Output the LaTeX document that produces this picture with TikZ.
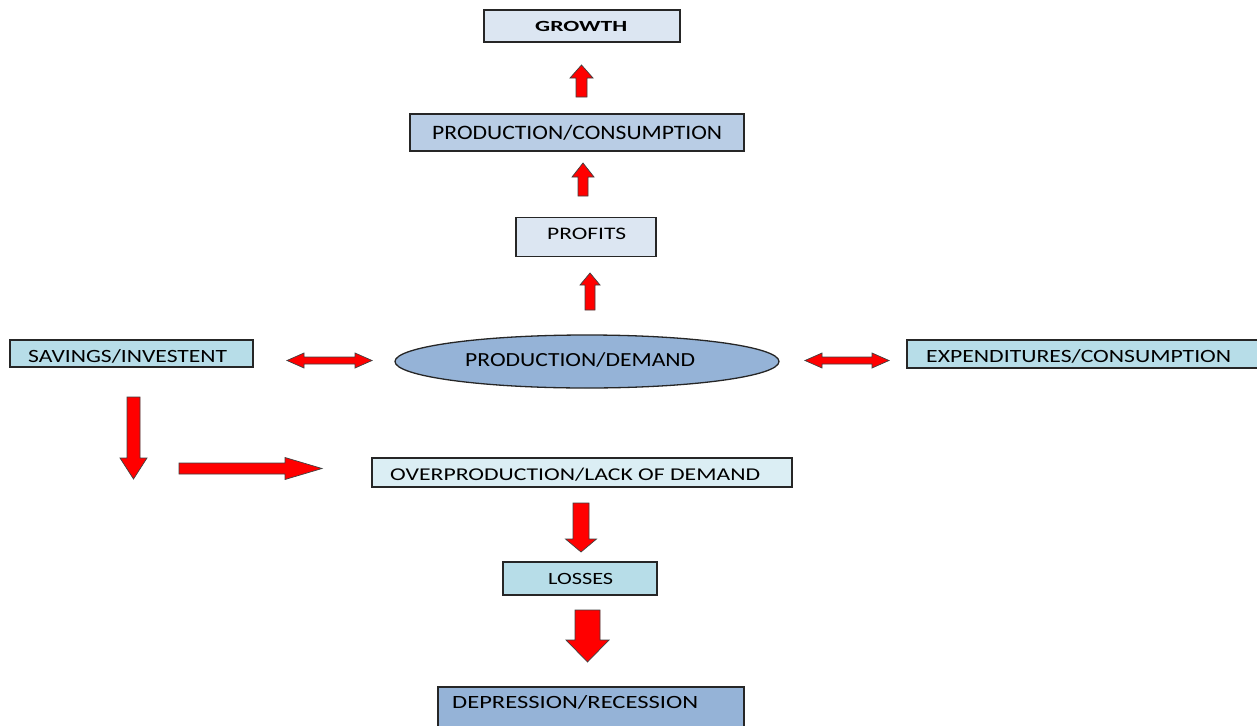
\documentclass[tikz,border=0pt]{standalone}
\usepackage{fontspec}
\setmainfont{Carlito}
\usepackage{graphicx}
\usetikzlibrary{shapes.geometric}
\definecolor{paleblue}{HTML}{DCE6F2}
\definecolor{midblue}{HTML}{B9CDE5}
\definecolor{deepblue}{HTML}{95B3D7}
\definecolor{cyanbox}{HTML}{B7DDE8}
\definecolor{palecyan}{HTML}{DBEEF4}
\definecolor{arrowred}{HTML}{FF0000}
\tikzset{
  box/.style={draw=black!85, line width=1.3pt, inner sep=0pt, rectangle},
  blockarr/.style={fill=arrowred, draw=black!75, line width=0.7pt, line join=miter},
  lab/.style={anchor=base west, inner sep=0pt, text=black},
}
% label: name, x, baseline y, font size, width, text
\newcommand\lbl[6]{\node[lab] (#1) at (#2,#3) {\resizebox{#5pt}{\height}{\fontsize{#4}{#4}\selectfont #6}};}
% vertical block arrow: cx, ytip, yhead, yend, shaft half width, head half width
\newcommand\blkV[6]{\draw[blockarr] (#1-#5,#4) -- (#1-#5,#3) -- (#1-#6,#3) -- (#1,#2) -- (#1+#6,#3) -- (#1+#5,#3) -- (#1+#5,#4) -- cycle;}
% horizontal block arrow: cy, xtip, xhead, xend, shaft half, head half
\newcommand\blkH[6]{\draw[blockarr] (#4,#1-#5) -- (#3,#1-#5) -- (#3,#1-#6) -- (#2,#1) -- (#3,#1+#6) -- (#3,#1+#5) -- (#4,#1+#5) -- cycle;}
% double horizontal block arrow: cy, xl, xlhead, xrhead, xr, shaft half, head half
\newcommand\blkD[7]{\draw[blockarr] (#2,#1) -- (#3,#1-#7) -- (#3,#1-#6) -- (#4,#1-#6) -- (#4,#1-#7) -- (#5,#1) -- (#4,#1+#7) -- (#4,#1+#6) -- (#3,#1+#6) -- (#3,#1+#7) -- cycle;}
\begin{document}
\begin{tikzpicture}[x=1pt,y=-1pt]
\clip (0,0) rectangle (1257,725);
\fill[white] (0,0) rectangle (1257,725);

% boxes
\node[box, fill=paleblue, minimum width=196pt, minimum height=32pt] (growthbox) at (582,26) {};
\node[box, fill=midblue, minimum width=334pt, minimum height=37pt] (pcbox) at (577,132.5) {};
\node[box, fill=paleblue, minimum width=140pt, minimum height=39pt] (profitbox) at (586,237) {};
\node[box, fill=cyanbox, minimum width=243pt, minimum height=27pt] (savbox) at (131.5,353.5) {};
\node[ellipse, draw=black!85, line width=1.3pt, inner sep=0pt, fill=deepblue, minimum width=384pt, minimum height=53pt] (pdell) at (587,361.5) {};
\node[box, fill=cyanbox, minimum width=353pt, minimum height=28pt] (expbox) at (1083.5,354) {};
\node[box, fill=palecyan, minimum width=420pt, minimum height=29pt] (overbox) at (582,472.5) {};
\node[box, fill=cyanbox, minimum width=154pt, minimum height=33pt] (lossbox) at (580,578.5) {};
\node[box, fill=deepblue, minimum width=306pt, minimum height=60pt] (depbox) at (591,717) {};

% labels
\lbl{growth}{535}{31.5}{15.5}{92}{\bfseries GROWTH}
\lbl{pc}{432}{139}{20.5}{290}{PRODUCTION/CONSUMPTION}
\lbl{profits}{547}{239.3}{17.6}{79}{PROFITS}
\lbl{sav}{28}{362.7}{18.7}{199}{SAVINGS/INVESTENT}
\lbl{pd}{465}{366}{20}{230}{PRODUCTION/DEMAND}
\lbl{exp}{926}{362.7}{18.7}{305}{EXPENDITURES/CONSUMPTION}
\lbl{over}{390}{480.7}{18}{370}{OVERPRODUCTION/LACK OF DEMAND}
\lbl{loss}{548}{584}{17.2}{65}{LOSSES}
\lbl{dep}{452}{708.3}{18.7}{246}{DEPRESSION/RECESSION}

% block arrows
\blkV{581.5}{65}{78}{97}{5.5}{11.5}
\blkV{583}{163}{177}{196}{5}{11}
\blkV{590}{273}{285}{310}{5}{10}
\blkD{360.5}{287}{304}{355}{372}{3.5}{7.5}
\blkD{360.5}{805}{822}{872}{889}{3.5}{7.5}
\blkV{133.5}{479}{458}{397}{6.5}{13.5}
\blkH{468.5}{322}{285}{179}{5.5}{11}
\blkV{581}{552}{539}{503}{8}{15.5}
\blkV{587.5}{662}{640}{610}{12.5}{21.5}
\end{tikzpicture}
\end{document}
